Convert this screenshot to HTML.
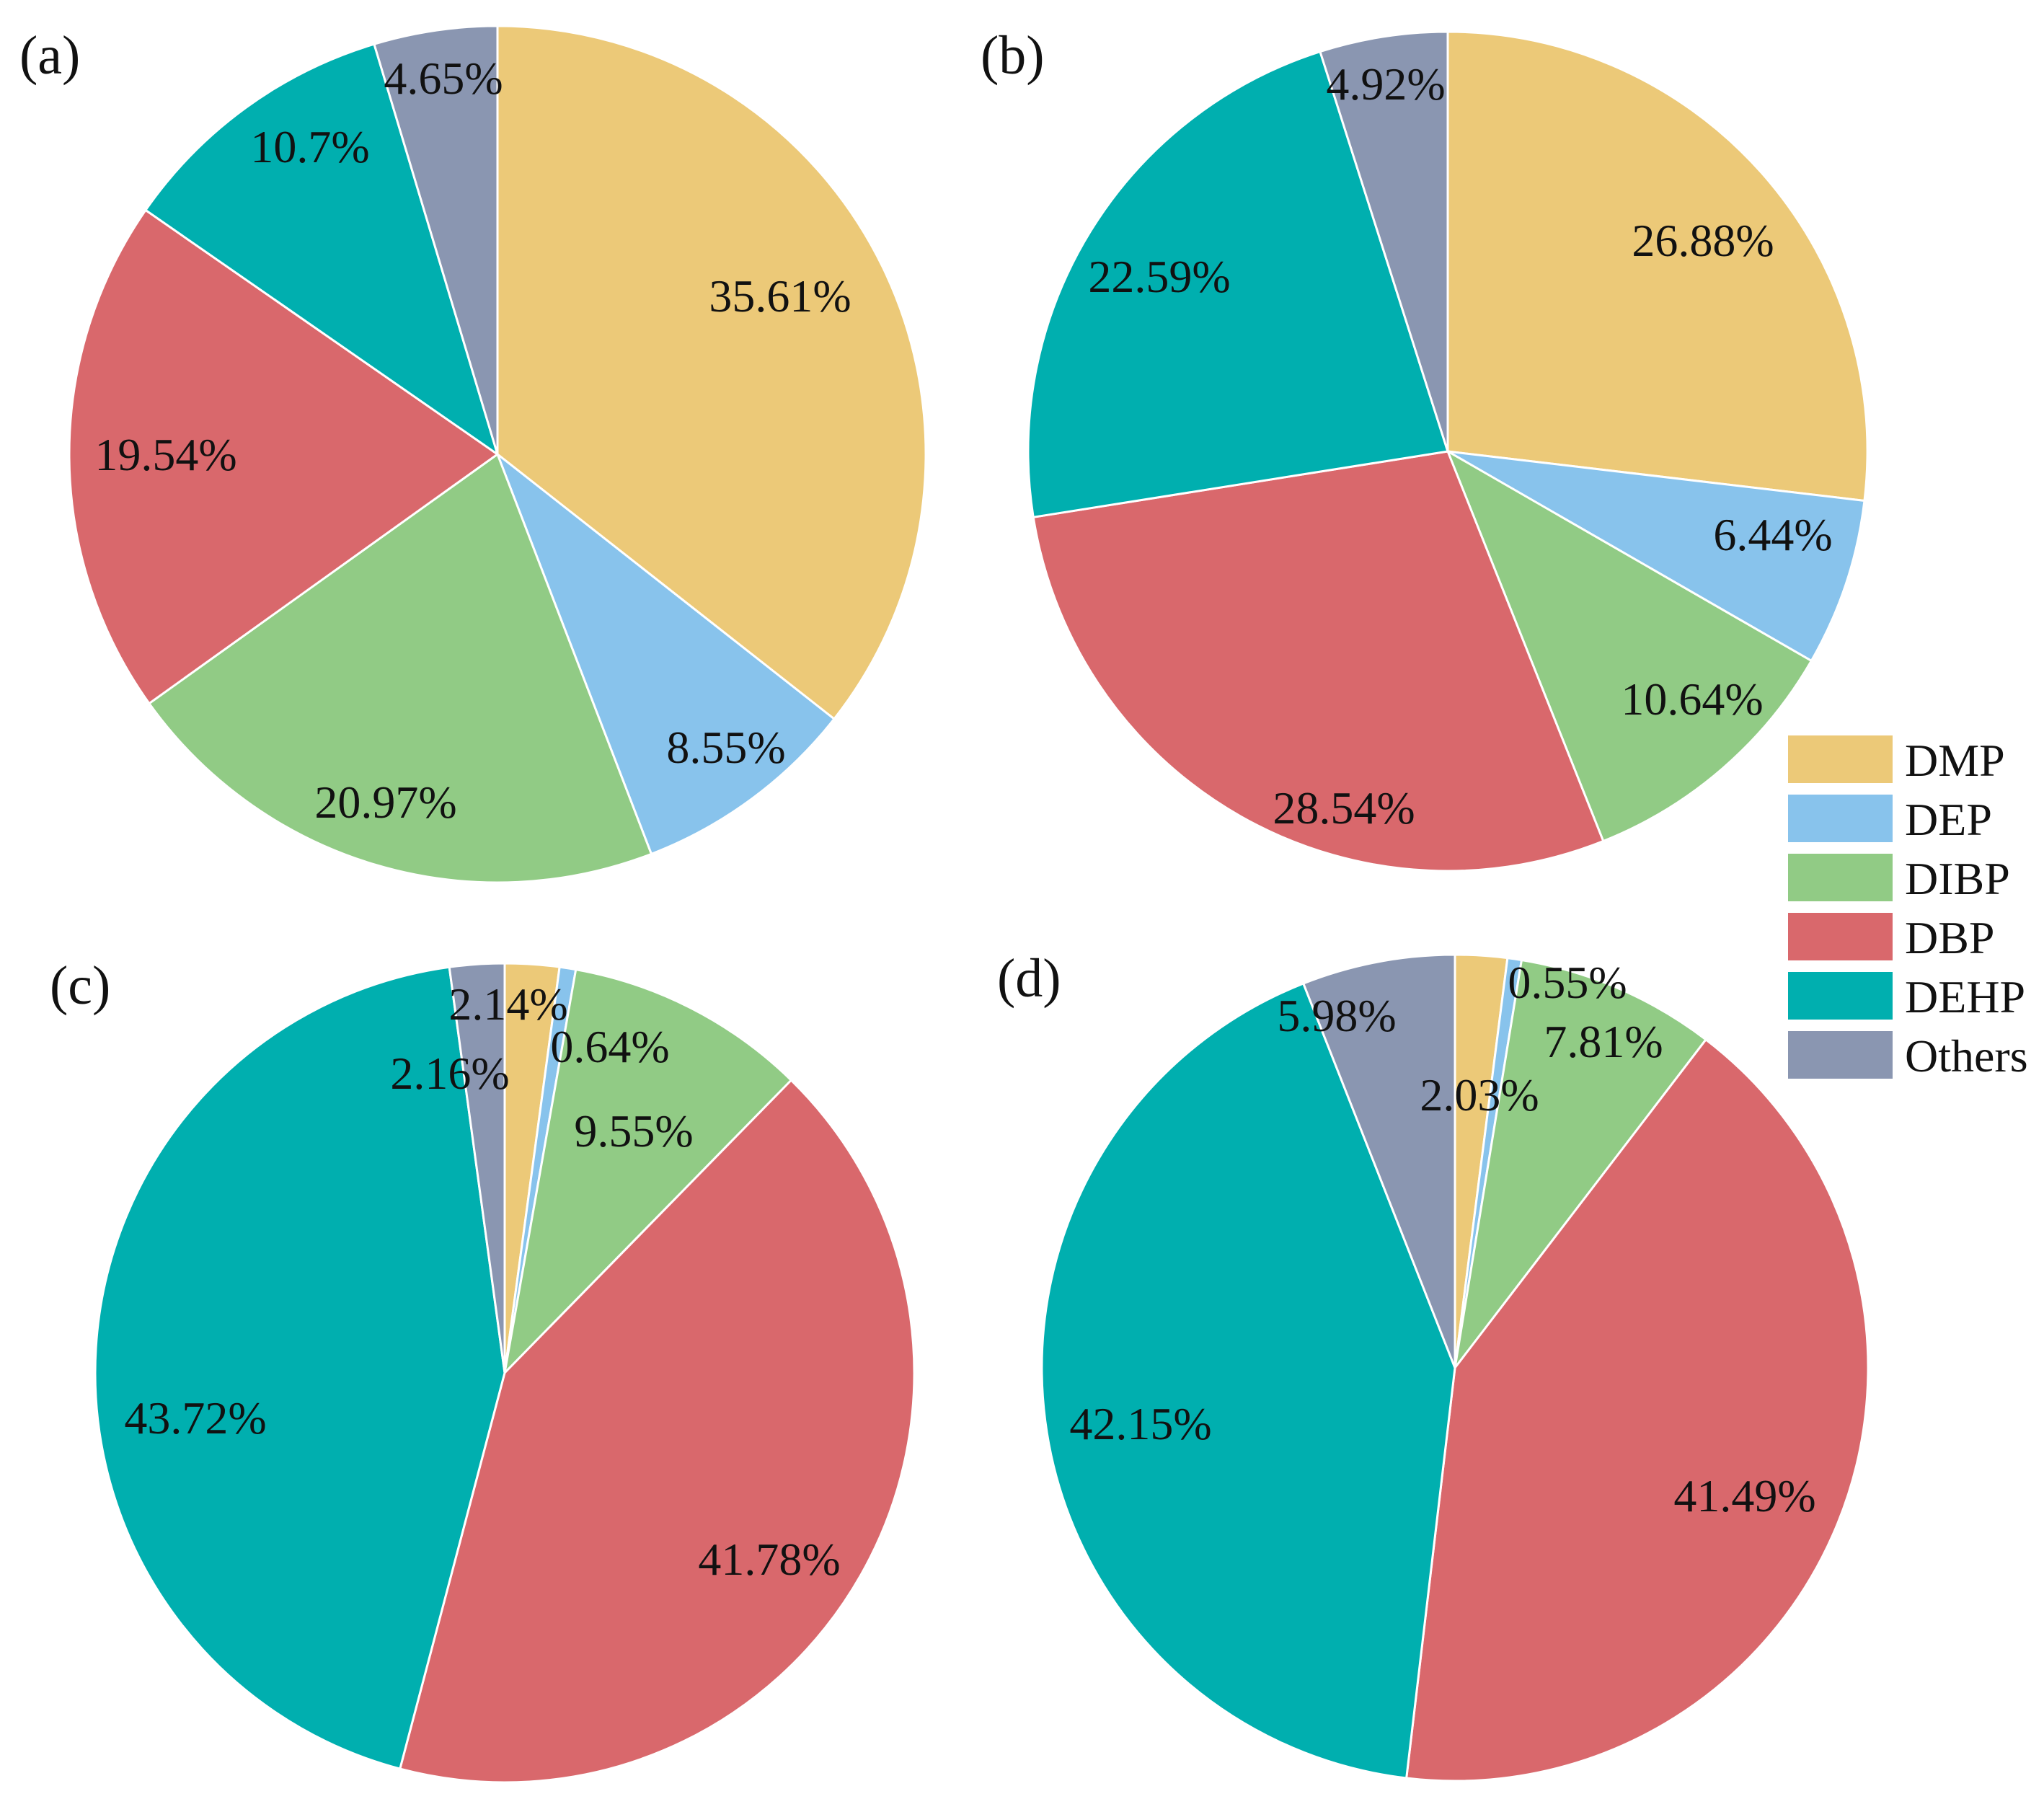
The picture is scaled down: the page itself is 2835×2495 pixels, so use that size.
<!DOCTYPE html>
<html><head><meta charset="utf-8"><style>
html,body{margin:0;padding:0;background:#fff;}
svg{display:block;}
text{font-family:"Liberation Serif",serif;fill:#111;}
</style></head><body>
<svg id="chart" width="2835" height="2495" viewBox="0 0 2835 2495" xmlns="http://www.w3.org/2000/svg"></svg>
<script>
const categories = ["DMP","DEP","DIBP","DBP","DEHP","Others"];
const colors = ["#ECC978","#88C3EC","#91CB85","#D9686C","#00AFAF","#8A96B1"];
const valuesA = [35.61, 8.55, 20.97, 19.54, 10.7, 4.65];
const valuesB = [26.88, 6.44, 10.64, 28.54, 22.59, 4.92];
const valuesC = [2.14, 0.64, 9.55, 41.78, 43.72, 2.16];
const valuesD = [2.03, 0.55, 7.81, 41.49, 42.15, 5.98];
const panelLabels = ["(a)","(b)","(c)","(d)"];

const NS = "http://www.w3.org/2000/svg";
const svg = document.getElementById("chart");
function mk(tag, attrs, parent){
  const e = document.createElementNS(NS, tag);
  for (const k in attrs) e.setAttribute(k, attrs[k]);
  (parent||svg).appendChild(e);
  return e;
}
const panels = [
  {vals: valuesA, cx: 690, cy: 630, r: 594, lx: 27, ly: 102,
   lab: [[1082,432],[1007,1058],[535,1134],[230,652],[430,225],[615,130]]},
  {vals: valuesB, cx: 2008, cy: 626, r: 582, lx: 1360, ly: 102,
   lab: [[2362,355],[2459,763],[2347,991],[1864,1142],[1608,405],[1922,138]]},
  {vals: valuesC, cx: 700, cy: 1904, r: 568, lx: 69, ly: 1392,
   lab: [[705,1414],[846,1473],[879,1590],[1067,2184],[271,1988],[624,1510]]},
  {vals: valuesD, cx: 2018, cy: 1897, r: 573, lx: 1383, ly: 1382,
   lab: [[2052,1540],[2174,1384],[2224,1466],[2420,2096],[1582,1996],[1854,1430]]}
];

panels.forEach((p, pi) => {
  const g = mk("g", {});
  
  
  const total = p.vals.reduce((a,b)=>a+b,0);
  let acc = 0;
  p.vals.forEach((v, i) => {
    const a0 = acc/total*2*Math.PI; acc += v; const a1 = acc/total*2*Math.PI;
    const x0 = p.cx + p.r*Math.sin(a0), y0 = p.cy - p.r*Math.cos(a0);
    const x1 = p.cx + p.r*Math.sin(a1), y1 = p.cy - p.r*Math.cos(a1);
    const large = (a1-a0) > Math.PI ? 1 : 0;
    const path = mk("path", {d:`M${p.cx},${p.cy} L${x0},${y0} A${p.r},${p.r} 0 ${large} 1 ${x1},${y1} Z`,
      fill: colors[i], stroke:"#fff", "stroke-width":3, "stroke-linejoin":"round"}, g);
    
    
  });
  p.vals.forEach((v, i) => {
    const t = mk("text", {x:p.lab[i][0], y:p.lab[i][1], "text-anchor":"middle", "font-size":64}, g);
    t.textContent = v + "%";
    
    
  });
  const pl = mk("text", {x:p.lx, y:p.ly, "font-size":76});
  pl.textContent = panelLabels[pi];
  
  
});

const lg = mk("g", {});


categories.forEach((c, i) => {
  const y = 1020 + i*82;
  const r = mk("rect", {x:2480, y:y, width:145, height:66, fill:colors[i]}, lg);
  
  
  const t = mk("text", {x:2642, y:y+56, "font-size":64}, lg);
  t.textContent = c;
  
  
});
</script>
</body></html>
